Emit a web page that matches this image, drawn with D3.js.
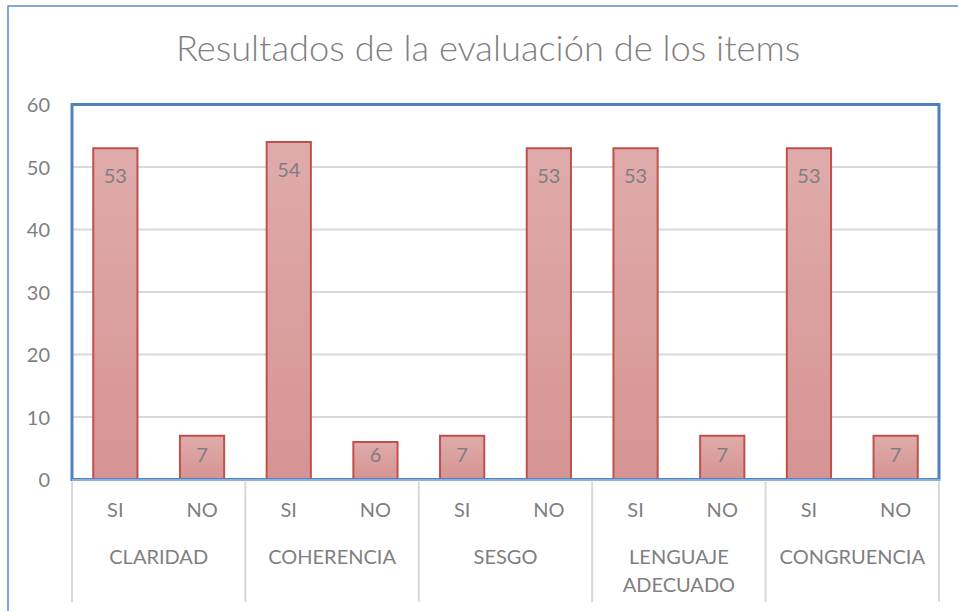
<!DOCTYPE html>
<html>
<head>
<meta charset="utf-8">
<script src="https://cdn.jsdelivr.net/npm/d3@7"></script>
<style>
  body { margin: 0; background: #fff; }
  svg { display: block; }
  text { font-family: Lato, "Open Sans", sans-serif; fill: #7f7f7f; }
</style>
</head>
<body>
<svg width="958" height="611"></svg>
<script>
// data
var groups = ["CLARIDAD", "COHERENCIA", "SESGO", "LENGUAJE ADECUADO", "CONGRUENCIA"];
var answers = ["SI", "NO"];
var values = [53, 7, 54, 6, 7, 53, 53, 7, 53, 7];
var yTicks = [0, 10, 20, 30, 40, 50, 60];

var svg = d3.select("svg");
var plotLeft = 72, plotRight = 939, plotTop = 104.5, plotBottom = 479.5;

// rows for bars
var rows = [];
groups.forEach(function (g, gi) {
  answers.forEach(function (a, ai) {
    rows.push({ group: g, answer: a, key: g + "|" + a, value: values[gi * answers.length + ai] });
  });
});

var x = d3.scaleBand()
  .domain(rows.map(function (d) { return d.key; }))
  .range([plotLeft, plotRight])
  .paddingInner(0.49)
  .paddingOuter(0.245);

var xGroup = d3.scaleBand().domain(groups).range([plotLeft, plotRight]);

var y = d3.scaleLinear().domain([0, 60]).range([plotBottom, plotTop]);

// outer chart border
svg.append("rect")
  .attr("x", 8).attr("y", 6)
  .attr("width", 1000).attr("height", 700)
  .attr("fill", "none")
  .attr("stroke", "#5b8ccf")
  .attr("stroke-width", 1.5);

// title
svg.append("text")
  .attr("x", 488).attr("y", 61)
  .attr("text-anchor", "middle")
  .style("font-size", "36.3px")
  .style("font-weight", 300)
  .text("Resultados de la evaluación de los items");

// gridlines
svg.append("g").selectAll("line")
  .data(yTicks.filter(function (t) { return t > 0 && t < 60; }))
  .join("line")
  .attr("x1", plotLeft).attr("x2", plotRight)
  .attr("y1", function (d) { return y(d); })
  .attr("y2", function (d) { return y(d); })
  .attr("stroke", "#d9d9d9")
  .attr("stroke-width", 2);

// y axis labels
var yAxis = svg.append("g")
  .attr("transform", "translate(" + (plotLeft - 22) + ",0)")
  .call(d3.axisLeft(y).tickValues(yTicks).tickSize(0).tickPadding(0));
yAxis.select(".domain").remove();
yAxis.selectAll("text")
  .attr("fill", null)
  .style("font-size", "20px")
  .attr("dy", "0.35em");

// gradient for bars
var grad = svg.append("defs").append("linearGradient")
  .attr("id", "barFill").attr("x1", 0).attr("y1", 0).attr("x2", 0).attr("y2", 1);
grad.append("stop").attr("offset", "0%").attr("stop-color", "#dfabaa");
grad.append("stop").attr("offset", "100%").attr("stop-color", "#d59493");

// bars
svg.append("g").selectAll("rect")
  .data(rows)
  .join("rect")
  .attr("x", function (d) { return x(d.key); })
  .attr("y", function (d) { return y(d.value); })
  .attr("width", x.bandwidth())
  .attr("height", function (d) { return y(0) - y(d.value); })
  .attr("fill", "url(#barFill)")
  .attr("stroke", "#c0504d")
  .attr("stroke-width", 2);

// value labels inside end
svg.append("g").selectAll("text")
  .data(rows)
  .join("text")
  .attr("x", function (d) { return x(d.key) + x.bandwidth() / 2; })
  .attr("y", function (d) { return Math.min(y(d.value) + 35, y(0) - 18); })
  .attr("text-anchor", "middle")
  .style("font-size", "20px")
  .text(function (d) { return d.value; });

// plot area border
svg.append("rect")
  .attr("x", plotLeft).attr("y", plotTop)
  .attr("width", plotRight - plotLeft).attr("height", plotBottom - plotTop)
  .attr("fill", "none")
  .attr("stroke", "#4f81bd")
  .attr("stroke-width", 3);

// category separators
var seps = groups.map(function (g) { return xGroup(g); }).concat([plotRight]);
svg.append("g").selectAll("line")
  .data(seps)
  .join("line")
  .attr("x1", function (d) { return d; }).attr("x2", function (d) { return d; })
  .attr("y1", plotBottom + 2).attr("y2", 602)
  .attr("stroke", "#d9d9d9")
  .attr("stroke-width", 2);

// x axis line
svg.append("line")
  .attr("x1", plotLeft).attr("x2", plotRight + 1)
  .attr("y1", plotBottom + 0.5).attr("y2", plotBottom + 0.5)
  .attr("stroke", "#8eaedb")
  .attr("stroke-width", 2);

// SI / NO labels
svg.append("g").selectAll("text")
  .data(rows)
  .join("text")
  .attr("x", function (d) { return x(d.key) + x.bandwidth() / 2; })
  .attr("y", 517)
  .attr("text-anchor", "middle")
  .style("font-size", "20px")
  .text(function (d) { return d.answer; });

// group labels (wrapped)
var wrapped = { "LENGUAJE ADECUADO": ["LENGUAJE", "ADECUADO"] };
svg.append("g").selectAll("text")
  .data(groups)
  .join("text")
  .attr("x", function (d) { return xGroup(d) + xGroup.bandwidth() / 2; })
  .attr("y", 564)
  .attr("text-anchor", "middle")
  .style("font-size", "20px")
  .each(function (d) {
    var lines = wrapped[d] || [d];
    var t = d3.select(this);
    lines.forEach(function (l, i) {
      t.append("tspan")
        .attr("x", xGroup(d) + xGroup.bandwidth() / 2)
        .attr("dy", i === 0 ? 0 : 28)
        .text(l);
    });
  });
</script>
</body>
</html>
